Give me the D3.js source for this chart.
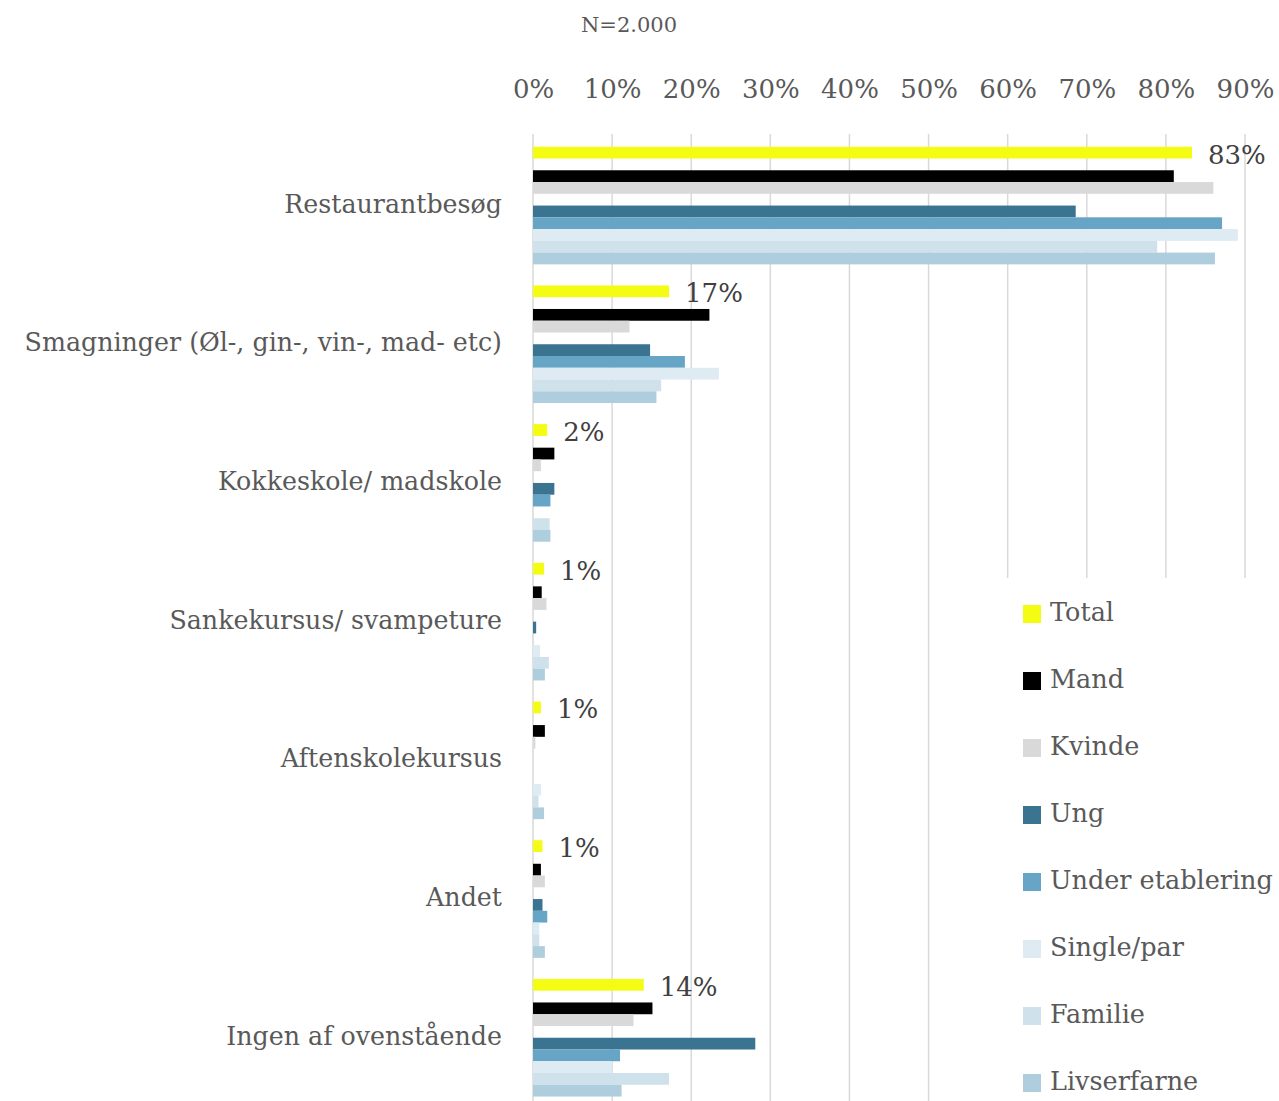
<!DOCTYPE html>
<html>
<head>
<meta charset="utf-8">
<script src="https://cdn.jsdelivr.net/npm/d3@7"></script>
<style>
  html, body { margin: 0; padding: 0; background: #fff; }
  svg { display: block; }
  text { font-family: "DejaVu Serif", serif; }
</style>
</head>
<body>
<svg id="chart" width="1279" height="1101"></svg>
<script>
const title = "N=2.000";
const categories = [
  "Restaurantbesøg",
  "Smagninger (Øl-, gin-, vin-, mad- etc)",
  "Kokkeskole/ madskole",
  "Sankekursus/ svampeture",
  "Aftenskolekursus",
  "Andet",
  "Ingen af ovenstående"
];
const seriesNames = ["Total", "Mand", "Kvinde", "Ung", "Under etablering", "Single/par", "Familie", "Livserfarne"];
const seriesColors = ["#F4FC14", "#000000", "#D9D9D9", "#3A7490", "#66A5C5", "#DEEBF2", "#CFE1EA", "#AECEDE"];
// slot order inside a category (gaps are empty slots in the original)
const slotOrder = ["Total", "gap1", "Mand", "Kvinde", "gap2", "Ung", "Under etablering", "Single/par", "Familie", "Livserfarne"];

const total        = [0.833, 0.172, 0.018, 0.014, 0.010, 0.012, 0.140];
const mand         = [0.810, 0.223, 0.027, 0.011, 0.015, 0.010, 0.151];
const kvinde       = [0.860, 0.122, 0.010, 0.017, 0.003, 0.015, 0.127];
const ung          = [0.686, 0.148, 0.027, 0.004, 0.000, 0.012, 0.281];
const underEtab    = [0.871, 0.192, 0.022, 0.000, 0.000, 0.018, 0.110];
const singlePar    = [0.891, 0.235, 0.000, 0.009, 0.010, 0.008, 0.100];
const familie      = [0.789, 0.162, 0.021, 0.020, 0.007, 0.008, 0.172];
const livserfarne  = [0.862, 0.156, 0.022, 0.015, 0.014, 0.015, 0.112];
const seriesValues = [total, mand, kvinde, ung, underEtab, singlePar, familie, livserfarne];
const tickValues = [0, 0.1, 0.2, 0.3, 0.4, 0.5, 0.6, 0.7, 0.8, 0.9];

const svg = d3.select("#chart");
const textColor = "#595959";

const x = d3.scaleLinear().domain([0, 0.9]).range([533, 1245]);
const y = d3.scaleBand().domain(categories).range([136.2, 136.2 + 7 * 138.7]).padding(0);
const bw = y.bandwidth();
const slot = d3.scaleBand().domain(slotOrder).range([10.55, bw - 10.55]).padding(0);

// gridlines
svg.append("g").selectAll("line").data(tickValues).join("line")
  .attr("x1", d => x(d)).attr("x2", d => x(d))
  .attr("y1", 134).attr("y2", 1101)
  .attr("stroke", "#D9D9D9").attr("stroke-width", 1.5);

// axis labels on top
const axis = d3.axisTop(x).tickValues(tickValues).tickFormat(d3.format(".0%")).tickSize(0).tickPadding(0);
const ag = svg.append("g").attr("transform", "translate(0,98)").call(axis);
ag.select(".domain").remove();
ag.selectAll("text").attr("fill", textColor).style("font-size", "26px")
  .style("font-family", "'DejaVu Serif', serif").attr("dy", 0);

// title
svg.append("text").attr("x", 629).attr("y", 32).attr("text-anchor", "middle")
  .attr("fill", textColor).style("font-size", "21px").text(title);

// bars
const data = [];
seriesNames.forEach((s, si) => {
  categories.forEach((c, ci) => {
    data.push({ s, si, c, v: seriesValues[si][ci] });
  });
});
svg.append("g").selectAll("rect").data(data).join("rect")
  .attr("x", x(0))
  .attr("y", d => y(d.c) + slot(d.s))
  .attr("width", d => x(d.v) - x(0))
  .attr("height", slot.bandwidth())
  .attr("fill", d => seriesColors[d.si]);

// value labels for Total
svg.append("g").selectAll("text").data(categories).join("text")
  .attr("x", (c, i) => x(total[i]) + 16)
  .attr("y", c => y(c) + slot("Total") + slot.bandwidth() + 5)
  .attr("fill", "#404040").style("font-size", "26px")
  .text((c, i) => d3.format(".0%")(total[i]));

// category labels
svg.append("g").selectAll("text").data(categories).join("text")
  .attr("x", 502).attr("y", c => y(c) + bw / 2 - 1.5)
  .attr("text-anchor", "end").attr("dominant-baseline", "central")
  .attr("fill", textColor).style("font-size", "25.3px")
  .text(c => c);

// legend
const lg = svg.append("g");
lg.append("rect").attr("x", 1003).attr("y", 578).attr("width", 276).attr("height", 523).attr("fill", "#fff");
const items = lg.selectAll("g.item").data(seriesNames).join("g").attr("class", "item")
  .attr("transform", (d, i) => `translate(1023, ${613 + i * 67})`);
items.append("rect").attr("x", 0).attr("y", -8).attr("width", 18).attr("height", 18)
  .attr("fill", (d, i) => seriesColors[i]);
items.append("text").attr("x", 27).attr("y", -1).attr("dominant-baseline", "central")
  .attr("fill", textColor).style("font-size", "25.5px").text(d => d);
</script>
</body>
</html>
